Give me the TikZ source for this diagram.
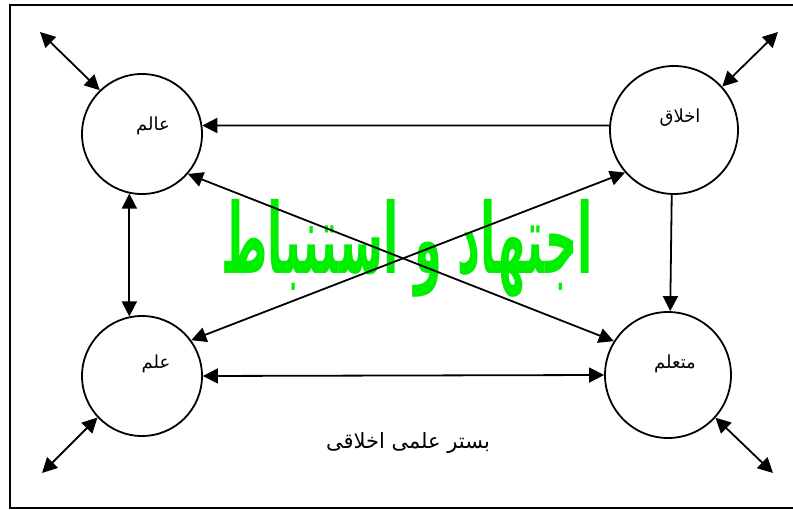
\documentclass[tikz,border=0pt]{standalone}
\usepackage{fontspec}
\usetikzlibrary{arrows.meta}
\newfontfamily\arabicfont[Script=Arabic]{DejaVu Sans}
\TeXXeTstate=1
\definecolor{titlegreen}{RGB}{0,238,0}
\tikzset{
  hub/.style={circle, draw, line width=1.8pt, inner sep=0pt, fill=none},
  tag/.style={font=\arabicfont\fontsize{18}{20}\selectfont, inner sep=0pt},
  link/.style={line width=1.8pt, -{Triangle[length=15pt,width=15pt]}},
  twoway/.style={line width=1.8pt, {Triangle[length=15pt,width=15pt]}-{Triangle[length=15pt,width=15pt]}}
}
\begin{document}
\begin{tikzpicture}[x=1pt, y=-1pt]
  \useasboundingbox (0,0) rectangle (793,510);
  \clip (0,0) rectangle (793,510);
  % frame
  \draw[line width=1.8pt] (10,5) rectangle (800,508);

  % title across the middle
  \node[font=\arabicfont\bfseries\fontsize{80}{90}\selectfont, text=titlegreen, xscale=0.56, yscale=1.22, inner sep=0pt]
    (title) at (407,248) {\beginR اجتهاد و استنباط\endR};

  % circles
  \node[hub, minimum size=120pt] (alem) at (142,134) {};
  \node[hub, minimum size=128pt] (akhlaq) at (674,130) {};
  \node[hub, minimum size=120pt] (elm) at (142,376) {};
  \node[hub, minimum size=126pt] (motaallem) at (668,375) {};

  % circle labels
  \node[tag] (talem) at (153,126) {\beginR عالم\endR};
  \node[tag] (takhlaq) at (680,118) {\beginR اخلاق\endR};
  \node[tag] (telm) at (156,364) {\beginR علم\endR};
  \node[tag] (tmotaallem) at (675,364) {\beginR متعلم\endR};

  % base caption
  \node[font=\arabicfont\fontsize{21}{24}\selectfont, inner sep=0pt] (base) at (408,443) {\beginR بستر علمی اخلاقی\endR};

  % connectors between circles
  \draw[link] (akhlaq.176) -- (alem.8);
  \draw[link] (akhlaq.268) -- (motaallem.88);
  \draw[twoway] (alem.258) -- (elm.102);
  \draw[twoway] (elm.east) -- (motaallem.west);
  \draw[twoway] (alem.-41) -- (motaallem.148);
  \draw[twoway] (elm.36) -- (akhlaq.221);

  % outward links
  \coordinate (ftl) at (40,32);
  \coordinate (ftr) at (778,32);
  \coordinate (fbl) at (42,473);
  \coordinate (fbr) at (773,473);
  \draw[twoway] (ftl) -- (alem.134);
  \draw[twoway] (ftr) -- (akhlaq.42);
  \draw[twoway] (fbl) -- (elm.223);
  \draw[twoway] (fbr) -- (motaallem.-42);
\end{tikzpicture}
\end{document}
